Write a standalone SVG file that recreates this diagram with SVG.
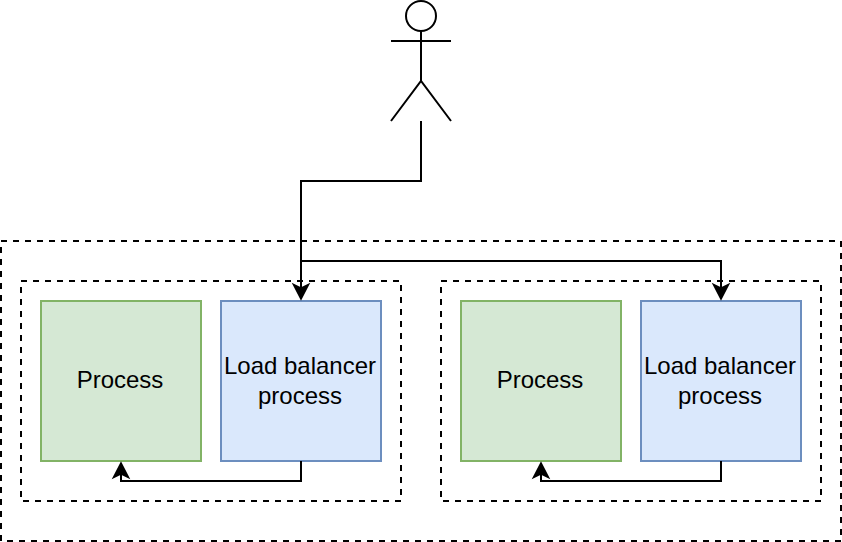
<svg xmlns="http://www.w3.org/2000/svg" width="842" height="542" viewBox="0 0 842 542">
<style>
.c{fill:none;stroke:#000;stroke-width:2}
.d{fill:none;stroke:#000;stroke-width:2;stroke-dasharray:6 6}
.g{fill:#d5e8d4;stroke:#82b366;stroke-width:2}
.b{fill:#dae8fc;stroke:#6c8ebf;stroke-width:2}
.a{fill:#000;stroke:#000;stroke-width:2}
text{font-family:"Liberation Sans",Arial,sans-serif;font-size:24px;fill:#000;text-anchor:middle}
</style>
<rect width="842" height="542" fill="#fff"/>
<g id="outer"><rect class="d" x="1" y="241" width="840" height="300"/></g>
<g id="host1"><rect class="d" x="21" y="281" width="380" height="220"/></g>
<g id="host2"><rect class="d" x="441" y="281" width="380" height="220"/></g>
<g id="process1"><rect class="g" x="41" y="301" width="160" height="160"/><text x="120" y="388">Process</text></g>
<g id="lb1"><rect class="b" x="221" y="301" width="160" height="160"/><text x="300" y="374">Load balancer</text><text x="300" y="404">process</text></g>
<g id="process2"><rect class="g" x="461" y="301" width="160" height="160"/><text x="540" y="388">Process</text></g>
<g id="lb2"><rect class="b" x="641" y="301" width="160" height="160"/><text x="720" y="374">Load balancer</text><text x="720" y="404">process</text></g>
<g id="user">
<circle class="c" cx="421" cy="16" r="15"/>
<path class="c" d="M421 31V81M391 41H451M391 121L421 81L451 121"/>
</g>
<g id="connectors">
<path class="c" d="M421 121V181H301V290"/>
<path class="c" d="M301 261H721V290"/>
<path class="c" d="M301 461V481H121V472"/>
<path class="c" d="M721 461V481H541V472"/>
<path class="a" d="M301 298.500L294 285L301 288.500L308 285Z"/>
<path class="a" d="M721 298.500L714 285L721 288.500L728 285Z"/>
<path class="a" d="M121 463.500L128 477L121 473.500L114 477Z"/>
<path class="a" d="M541 463.500L548 477L541 473.500L534 477Z"/>
</g>
</svg>
